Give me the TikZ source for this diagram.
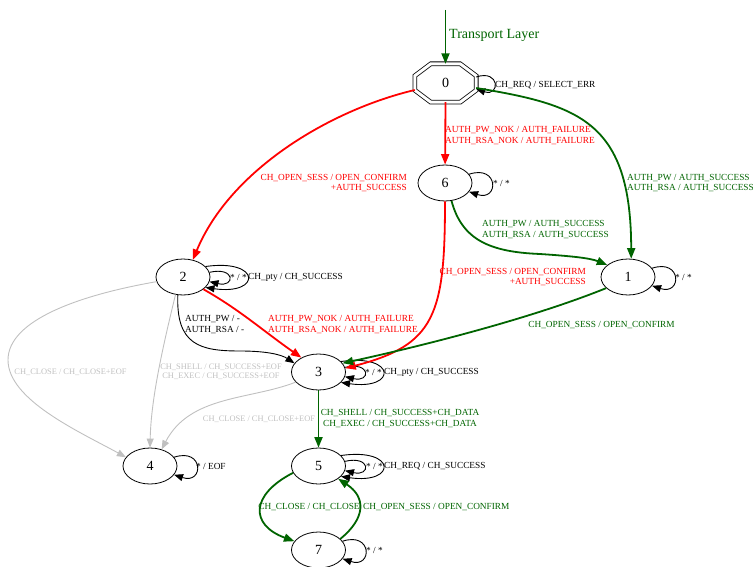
\documentclass[tikz,border=0pt]{standalone}
\usepackage{fontspec}
\setmainfont{Liberation Serif}
\usetikzlibrary{shapes.geometric,arrows.meta}
\definecolor{okgreen}{RGB}{0,100,0}
\definecolor{failred}{RGB}{255,0,0}
\definecolor{closegrey}{RGB}{192,192,192}

\begin{document}
\begin{tikzpicture}[
  x=1pt, y=-1pt,
  >={Triangle[length=9pt,width=7pt]},
  state/.style={draw, ellipse, line width=0.8pt, minimum width=54pt, minimum height=36pt, inner sep=0pt, font=\fontsize{14}{16}\selectfont},
  initstate/.style={rectangle, minimum width=61pt, minimum height=38pt, inner sep=0pt, font=\fontsize{14}{16}\selectfont},
  octline/.style={draw, double, double distance=3pt, line width=0.8pt, line join=miter},
  lbl/.style={inner sep=0pt, font=\fontsize{9.3}{10.8}\selectfont},
  greylbl/.style={inner sep=0pt, closegrey, font=\fontsize{8.4}{9.4}\selectfont},
  plain/.style={->, line width=0.9pt},
  okarrow/.style={-{Triangle[length=10.5pt,width=8pt]}, okgreen, line width=1.8pt},
  failarrow/.style={-{Triangle[length=10.5pt,width=8pt]}, failred, line width=1.8pt},
  closearrow/.style={->, closegrey, line width=0.9pt}
]
  \useasboundingbox (0,0) rectangle (753,567);

  % States
  \node[initstate] (s0) at (445.5,83) {0};
  \draw[octline] ([xshift=16pt]s0.north west) -- ([xshift=-16pt]s0.north east)
    -- ([yshift=-12pt]s0.north east) -- ([yshift=12pt]s0.south east)
    -- ([xshift=-16pt]s0.south east) -- ([xshift=16pt]s0.south west)
    -- ([yshift=12pt]s0.south west) -- ([yshift=-12pt]s0.north west) -- cycle;
  \node[state] (s6) at (445,183) {6};
  \node[state] (s2) at (183,277) {2};
  \node[state] (s1) at (628,277) {1};
  \node[state] (s3) at (318.5,372) {3};
  \node[state] (s4) at (150,466) {4};
  \node[state] (s5) at (318.5,466) {5};
  \node[state] (s7) at (318.5,550) {7};
  \coordinate (entry) at (445.5,10);

  % Entry
  \draw[okarrow] (entry) -- (s0.north);
  \node[lbl, okgreen, anchor=west, font=\fontsize{14}{16}\selectfont] (tentry) at (449,35) {Transport Layer};

  % Self loops
  \draw[plain] ([yshift=6pt]s0.east) .. controls +(24,-8) and +(24,8) .. ([yshift=-6pt]s0.east);
  \draw[plain] (s6.20) .. controls +(30,-10) and +(30,10) .. (s6.-20);
  \draw[plain] (s1.20) .. controls +(30,-10) and +(30,10) .. (s1.-20);
  \draw[plain] (s4.20) .. controls +(30,-10) and +(30,10) .. (s4.-20);
  \draw[plain] (s7.20) .. controls +(30,-10) and +(30,10) .. (s7.-20);
  \foreach \s in {s2,s3,s5} {
    \draw[plain] (\s.10) .. controls +(26,-6) and +(26,6) .. (\s.-10);
    \draw[plain] (\s.25) .. controls +(56,-8) and +(56,8) .. (\s.-25);
  }

  % Edges
  \draw[failarrow] (s0.south) -- (s6);
  \draw[failarrow] ([yshift=-7pt]s0.west) .. controls (330,110) and (230,170) .. (s2.60);
  \draw[okarrow] ([yshift=-5pt]s0.east) .. controls (580,105) and (631,122) .. (s1.80);
  \draw[okarrow] (s6.-70) .. controls (462,240) and (490,252) .. (540,254)
    .. controls (570,256) and (590,258) .. (s1.150);
  \draw[failarrow] (s6.south) .. controls (445,315) and (435,345) .. (s3.8);
  \draw[okarrow] (s1.207) .. controls (540,315) and (440,342) .. (s3.20);
  \draw[plain] (s2.254) .. controls (176,345) and (200,351) .. (240,351)
    .. controls (268,351) and (282,355) .. (s3.160);
  \draw[failarrow] (s2.-31) .. controls (240,310) and (262,330) .. (s3.140);
  \draw[closearrow] (s2.190) .. controls (80,295) and (8,320) .. (8,360)
    .. controls (8,400) and (80,432) .. (s4.160);
  \draw[closearrow] (s2.247) .. controls (162,350) and (151,400) .. (s4.north);
  \draw[closearrow] (s3.204) .. controls (250,400) and (190,395) .. (s4.55);
  \draw[okarrow] (s3) -- (s5);
  \draw[okarrow] (s5.195) .. controls (250,495) and (250,525) .. (s7.160);
  \draw[okarrow] (s7.27) .. controls (366,518) and (366,497) .. (s5.-33);

  % Labels
  \node[lbl, anchor=west] (t0) at (495,85) {CH\_REQ / SELECT\_ERR};
  \node[lbl, failred, anchor=west, align=left] (t06) at (445,135.5) {AUTH\_PW\_NOK / AUTH\_FAILURE\\AUTH\_RSA\_NOK / AUTH\_FAILURE};
  \node[lbl, failred, anchor=east, align=right] (t02) at (407,183) {CH\_OPEN\_SESS / OPEN\_CONFIRM\\+AUTH\_SUCCESS};
  \node[lbl, okgreen, anchor=west, align=left] (t01) at (627,183) {AUTH\_PW / AUTH\_SUCCESS\\AUTH\_RSA / AUTH\_SUCCESS};
  \node[lbl, anchor=west] (t6) at (493,183) {* / *};
  \node[lbl, okgreen, anchor=west, align=left] (t61) at (482,229.5) {AUTH\_PW / AUTH\_SUCCESS\\AUTH\_RSA / AUTH\_SUCCESS};
  \node[lbl, failred, anchor=east, align=right] (t63) at (586,277) {CH\_OPEN\_SESS / OPEN\_CONFIRM\\+AUTH\_SUCCESS};
  \node[lbl, anchor=west] (t1) at (675,277) {* / *};
  \node[lbl, okgreen] (t13) at (601.5,325) {CH\_OPEN\_SESS / OPEN\_CONFIRM};
  \node[lbl, anchor=west] (t2a) at (230,277) {* / *};
  \node[lbl, anchor=west] (t2b) at (248,277) {CH\_pty / CH\_SUCCESS};
  \node[lbl, anchor=west, align=left] (t23) at (185,324.5) {AUTH\_PW / -\\AUTH\_RSA / -};
  \node[lbl, failred, anchor=west, align=left] (t23f) at (268,324.5) {AUTH\_PW\_NOK / AUTH\_FAILURE\\AUTH\_RSA\_NOK / AUTH\_FAILURE};
  \node[greylbl] (t24a) at (70.5,372) {CH\_CLOSE / CH\_CLOSE+EOF};
  \node[greylbl, align=center] (t24b) at (221,371.5) {CH\_SHELL / CH\_SUCCESS+EOF\\CH\_EXEC / CH\_SUCCESS+EOF};
  \node[greylbl] (t34) at (259,419) {CH\_CLOSE / CH\_CLOSE+EOF};
  \node[lbl, anchor=west] (t4) at (196,466) {* / EOF};
  \node[lbl, anchor=west] (t3a) at (365,372) {* / *};
  \node[lbl, anchor=west] (t3b) at (384,372) {CH\_pty / CH\_SUCCESS};
  \node[lbl, okgreen, align=center] (t35) at (400,418.5) {CH\_SHELL / CH\_SUCCESS+CH\_DATA\\CH\_EXEC / CH\_SUCCESS+CH\_DATA};
  \node[lbl, anchor=west] (t5a) at (366,466) {* / *};
  \node[lbl, anchor=west] (t5b) at (384,466) {CH\_REQ / CH\_SUCCESS};
  \node[lbl, okgreen] (t57) at (309,507.5) {CH\_CLOSE / CH\_CLOSE};
  \node[lbl, okgreen, anchor=west] (t75) at (363,507.5) {CH\_OPEN\_SESS / OPEN\_CONFIRM};
  \node[lbl, anchor=west] (t7) at (366,550) {* / *};
\end{tikzpicture}
\end{document}
